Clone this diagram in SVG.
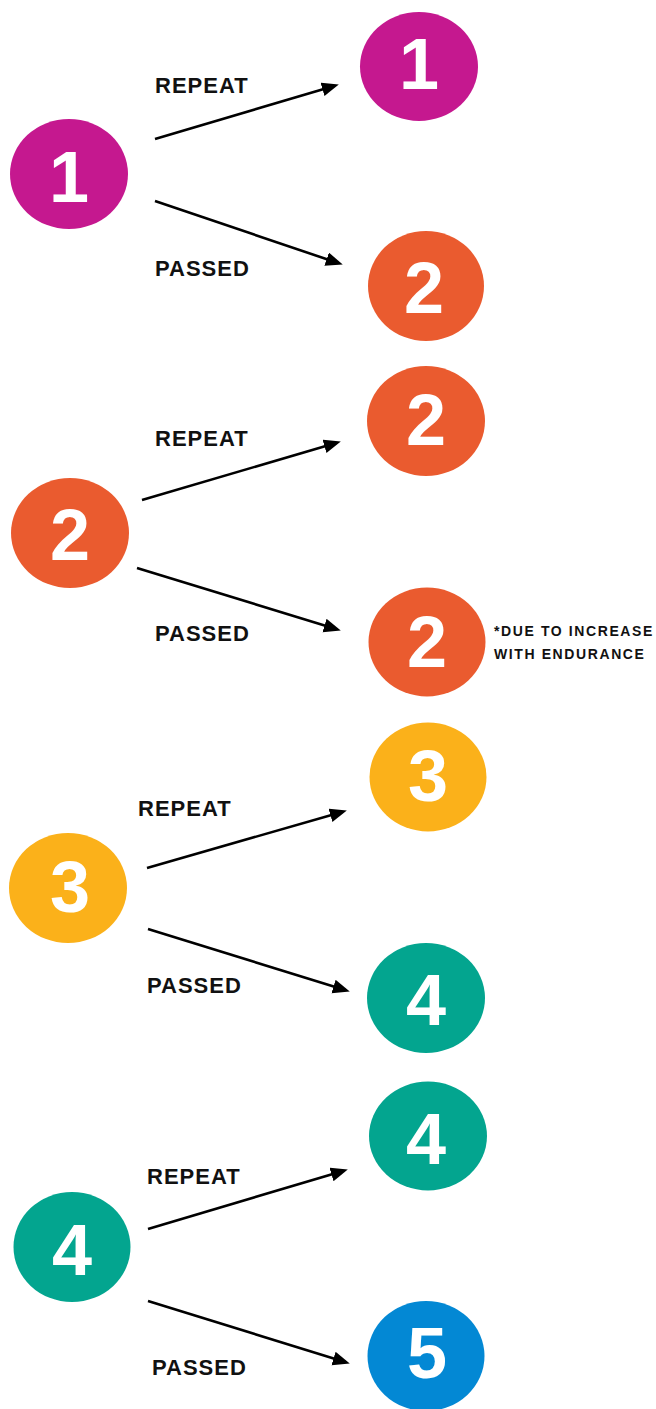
<svg xmlns="http://www.w3.org/2000/svg" width="656" height="1409" viewBox="0 0 656 1409">
<style>
.lbl{font-family:"Liberation Sans",Arial,sans-serif;font-weight:bold;font-size:22px;fill:#111;letter-spacing:1px}
.note{font-family:"Liberation Sans",Arial,sans-serif;font-weight:bold;font-size:14px;fill:#111;letter-spacing:1.6px}
.num{font-family:"Liberation Sans",Arial,sans-serif;font-weight:bold;font-size:72px;fill:#fff;text-anchor:middle}
.c1{fill:#c5188f}.c2{fill:#ea5b2f}.c3{fill:#fbb11a}.c4{fill:#03a58f}.c5{fill:#0388d4}
.arr{stroke:#000;stroke-width:2.6;fill:none;marker-end:url(#ah)}
</style>
<defs>
<marker id="ah" markerUnits="userSpaceOnUse" markerWidth="18" markerHeight="15" refX="12" refY="7" orient="auto">
<path d="M0,0 L17,7 L0,14 z" fill="#000"/>
</marker>
</defs>
<g id="connectors">
<line class="arr" x1="155" y1="139" x2="334" y2="86"/>
<line class="arr" x1="155" y1="201" x2="338" y2="263"/>
<line class="arr" x1="142" y1="500" x2="336" y2="443"/>
<line class="arr" x1="137" y1="568" x2="336" y2="629"/>
<line class="arr" x1="147" y1="868" x2="342" y2="812"/>
<line class="arr" x1="148" y1="929" x2="345" y2="990"/>
<line class="arr" x1="148" y1="1229" x2="343" y2="1171"/>
<line class="arr" x1="148" y1="1301" x2="345" y2="1362"/>
</g>
<g id="labels">
<text class="lbl" x="155" y="93">REPEAT</text>
<text class="lbl" x="155" y="276">PASSED</text>
<text class="lbl" x="155" y="446">REPEAT</text>
<text class="lbl" x="155" y="641">PASSED</text>
<text class="lbl" x="138" y="816">REPEAT</text>
<text class="lbl" x="147" y="993">PASSED</text>
<text class="lbl" x="147" y="1184">REPEAT</text>
<text class="lbl" x="152" y="1375">PASSED</text>
<text class="note" x="494" y="636">*DUE TO INCREASE</text>
<text class="note" x="494" y="659">WITH ENDURANCE</text>
</g>
<g id="n1a"><ellipse class="c1" cx="69" cy="174" rx="59" ry="55"/><text class="num" x="69" y="202">1</text></g>
<g id="n1b"><ellipse class="c1" cx="419" cy="66.5" rx="59" ry="54.5"/><text class="num" x="419" y="89">1</text></g>
<g id="n1c"><ellipse class="c2" cx="426" cy="286" rx="58" ry="55"/><text class="num" x="424" y="313">2</text></g>
<g id="n2a"><ellipse class="c2" cx="70" cy="533" rx="59" ry="55"/><text class="num" x="70" y="560">2</text></g>
<g id="n2b"><ellipse class="c2" cx="426" cy="421" rx="59" ry="55"/><text class="num" x="426" y="445">2</text></g>
<g id="n2c"><ellipse class="c2" cx="427" cy="642" rx="58.5" ry="54.5"/><text class="num" x="427" y="667">2</text></g>
<g id="n3a"><ellipse class="c3" cx="68" cy="888" rx="59" ry="55"/><text class="num" x="70" y="912">3</text></g>
<g id="n3b"><ellipse class="c3" cx="428" cy="777" rx="58.5" ry="54.5"/><text class="num" x="428" y="801">3</text></g>
<g id="n3c"><ellipse class="c4" cx="426" cy="998" rx="59" ry="55"/><text class="num" x="426" y="1025">4</text></g>
<g id="n4a"><ellipse class="c4" cx="72" cy="1247" rx="58.5" ry="55"/><text class="num" x="72" y="1275">4</text></g>
<g id="n4b"><ellipse class="c4" cx="428" cy="1136" rx="59" ry="54.5"/><text class="num" x="426" y="1164">4</text></g>
<g id="n4c"><ellipse class="c5" cx="426" cy="1356" rx="58.5" ry="55"/><text class="num" x="427" y="1378">5</text></g>
</svg>
